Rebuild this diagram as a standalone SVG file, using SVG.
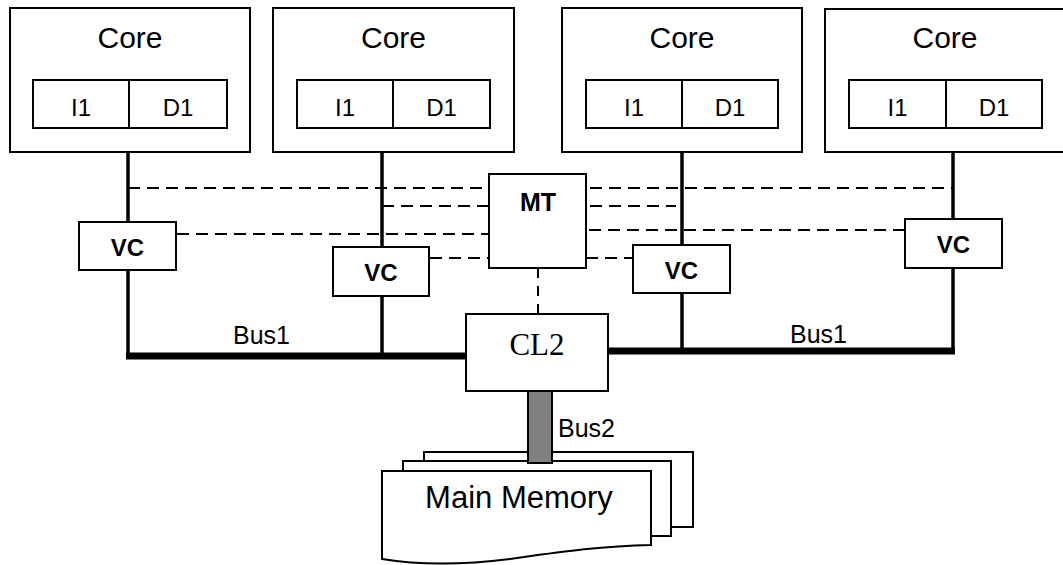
<svg xmlns="http://www.w3.org/2000/svg" width="1063" height="565" viewBox="0 0 1063 565">
<style>
.box{fill:#fff;stroke:#000;stroke-width:2}
.t{font-family:"Liberation Sans",Arial,sans-serif;fill:#000;text-anchor:middle}
.core{font-size:30px}
.small{font-size:24px}
.bold{font-size:24px;font-weight:bold}
.bus{font-family:"Liberation Sans",Arial,sans-serif;font-size:25px;fill:#000}
.v{stroke:#000;stroke-width:3.5;fill:none}
.thick{stroke:#000;stroke-width:7;fill:none}
.dash{stroke:#000;stroke-width:2;stroke-dasharray:12 7;fill:none}
</style>
<rect width="1063" height="565" fill="#fff"/>
<g id="connectors">
<line class="v" x1="128" y1="152" x2="128" y2="356"/>
<line class="v" x1="382" y1="152" x2="382" y2="356"/>
<line class="v" x1="682" y1="152" x2="682" y2="351"/>
<line class="v" x1="953" y1="152" x2="953" y2="351"/>
<line class="thick" x1="126" y1="356" x2="467" y2="356"/>
<line class="thick" x1="607" y1="351" x2="955" y2="351"/>
<line class="dash" x1="128" y1="188" x2="489" y2="188"/>
<line class="dash" x1="382" y1="206" x2="489" y2="206"/>
<line class="dash" x1="177" y1="234" x2="489" y2="234"/>
<line class="dash" x1="430" y1="258" x2="489" y2="258"/>
<line class="dash" x1="590" y1="188" x2="953" y2="188"/>
<line class="dash" x1="590" y1="206" x2="676" y2="206"/>
<line class="dash" x1="589" y1="230" x2="905" y2="230"/>
<line class="dash" x1="586" y1="258" x2="633" y2="258"/>
<line class="dash" x1="538" y1="268" x2="538" y2="314" style="stroke-dasharray:10 8"/>
</g>
<g id="core1">
<rect class="box" x="10" y="8" width="240" height="144"/>
<text class="t core" x="130" y="48">Core</text>
<rect class="box" x="33" y="80" width="194" height="48"/>
<line stroke="#000" stroke-width="2" x1="129" y1="80" x2="129" y2="128"/>
<text class="t small" x="81" y="116">I1</text>
<text class="t small" x="178" y="116">D1</text>
</g>
<g id="core2">
<rect class="box" x="273" y="8" width="241" height="144"/>
<text class="t core" x="393.5" y="48">Core</text>
<rect class="box" x="297" y="80" width="193" height="48"/>
<line stroke="#000" stroke-width="2" x1="393" y1="80" x2="393" y2="128"/>
<text class="t small" x="345" y="116">I1</text>
<text class="t small" x="441.5" y="116">D1</text>
</g>
<g id="core3">
<rect class="box" x="562" y="8" width="240" height="144"/>
<text class="t core" x="682" y="48">Core</text>
<rect class="box" x="586" y="80" width="192" height="48"/>
<line stroke="#000" stroke-width="2" x1="682" y1="80" x2="682" y2="128"/>
<text class="t small" x="634" y="116">I1</text>
<text class="t small" x="730" y="116">D1</text>
</g>
<g id="core4">
<rect class="box" x="825" y="9" width="240" height="143"/>
<text class="t core" x="945" y="48">Core</text>
<rect class="box" x="849" y="80" width="193" height="48"/>
<line stroke="#000" stroke-width="2" x1="946" y1="80" x2="946" y2="128"/>
<text class="t small" x="897.5" y="116">I1</text>
<text class="t small" x="994" y="116">D1</text>
</g>
<g id="vc1">
<rect class="box" x="79" y="222" width="97" height="48"/>
<text class="t bold" x="127.5" y="256">VC</text>
</g>
<g id="vc2">
<rect class="box" x="333" y="247" width="96" height="49"/>
<text class="t bold" x="381" y="281">VC</text>
</g>
<g id="vc3">
<rect class="box" x="633" y="245" width="97" height="48"/>
<text class="t bold" x="681.5" y="279">VC</text>
</g>
<g id="vc4">
<rect class="box" x="905" y="219" width="97" height="49"/>
<text class="t bold" x="953.5" y="253">VC</text>
</g>
<g id="mt">
<rect class="box" x="489" y="174" width="97" height="94"/>
<text class="t bold" x="538" y="211" style="font-size:25px">MT</text>
</g>
<g id="cl2">
<rect class="box" x="466" y="314" width="142" height="77"/>
<text class="t" x="537" y="355" style="font-family:'Liberation Serif','Times New Roman',serif;font-size:31px">CL2</text>
</g>
<g id="memory">
<rect class="box" x="424" y="452" width="269" height="75"/>
<rect class="box" x="403" y="461" width="268" height="75"/>
<path class="box" d="M382,471 H651 V545 C600,546 560,552 510,559 C470,564 425,566 382,559 Z"/>
<text class="t" x="519" y="508" style="font-size:31px">Main Memory</text>
</g>
<g id="bus2">
<rect x="528" y="391" width="24" height="72" fill="#808080" stroke="#000" stroke-width="2"/>
</g>
<g id="labels">
<text class="bus" x="233" y="344">Bus1</text>
<text class="bus" x="790" y="343">Bus1</text>
<text class="bus" x="558" y="437">Bus2</text>
</g>
</svg>
